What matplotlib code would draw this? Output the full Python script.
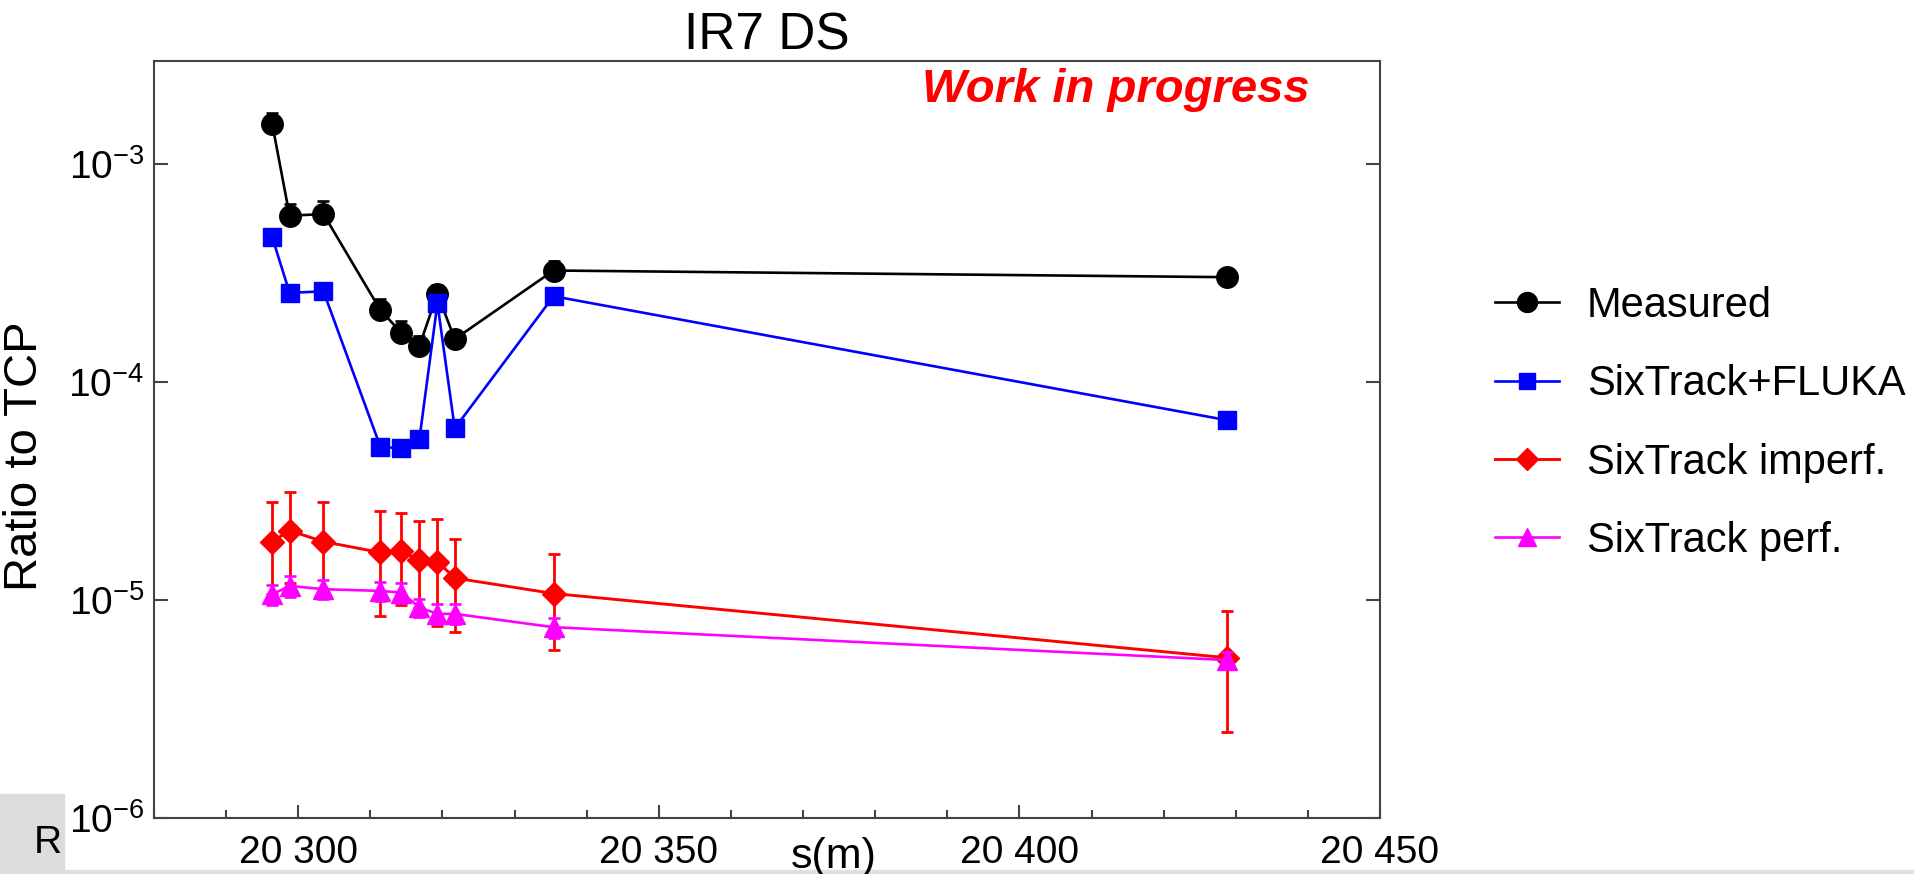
import numpy as np
import matplotlib
matplotlib.use('Agg')
import matplotlib.pyplot as plt
from matplotlib.ticker import FixedLocator, MultipleLocator, FuncFormatter, NullLocator
from matplotlib.lines import Line2D
from matplotlib.patches import Rectangle

plt.rcParams['font.family'] = ['Liberation Sans', 'DejaVu Sans']
plt.rcParams['mathtext.fontset'] = 'custom'
plt.rcParams['mathtext.rm'] = 'Liberation Sans'
plt.rcParams['mathtext.it'] = 'Liberation Sans:italic'
plt.rcParams['mathtext.bf'] = 'Liberation Sans:bold'

## BLM positions along the ring (m)
s_pos = [20296.4, 20298.8, 20303.5, 20311.4, 20314.3, 20316.8, 20319.3, 20321.7, 20335.4, 20428.8]

## Measured losses normalised to the TCP
meas = [1.52e-3, 5.78e-4, 5.88e-4, 2.13e-4, 1.68e-4, 1.46e-4, 2.54e-4, 1.57e-4, 3.24e-4, 3.02e-4]
meas_err_up = [1.9e-4, 7.8e-5, 8.9e-5, 2.6e-5, 2.3e-5, 1.6e-5, 2.3e-5, 1.0e-5, 3.3e-5, 1.2e-5]

## SixTrack+FLUKA energy deposition
fluka = [4.60e-4, 2.56e-4, 2.60e-4, 5.03e-5, 4.96e-5, 5.46e-5, 2.29e-4, 6.12e-5, 2.47e-4, 6.67e-5]

## SixTrack with imperfections
imperf = [1.85e-5, 2.08e-5, 1.85e-5, 1.65e-5, 1.67e-5, 1.52e-5, 1.50e-5, 1.26e-5, 1.07e-5, 5.43e-6]
imperf_lo = [0.78e-5, 0.88e-5, 0.75e-5, 0.81e-5, 0.72e-5, 0.60e-5, 0.74e-5, 0.55e-5, 0.48e-5, 0.294e-5]
imperf_hi = [0.97e-5, 1.03e-5, 0.95e-5, 0.91e-5, 0.83e-5, 0.79e-5, 0.85e-5, 0.64e-5, 0.56e-5, 0.342e-5]

## SixTrack perfect machine
perf = [1.06e-5, 1.16e-5, 1.12e-5, 1.10e-5, 1.08e-5, 9.25e-6, 8.63e-6, 8.63e-6, 7.50e-6, 5.30e-6]
perf_err = [0.11e-5, 0.13e-5, 0.11e-5, 0.11e-5, 0.11e-5, 0.09e-5, 0.09e-5, 0.09e-5, 0.08e-5, 0.05e-5]

series_labels = ['Measured', 'SixTrack+FLUKA', 'SixTrack imperf.', 'SixTrack perf.']

W, H = 1915, 874
fig = plt.figure(figsize=(W/100, H/100), dpi=100)
ax = fig.add_axes([154/W, 56/H, 1226/W, 757/H])

## Measured
ax.errorbar(s_pos, meas, yerr=[np.zeros(len(meas)), meas_err_up], fmt='none',
            ecolor='black', elinewidth=1.9, capsize=4.5, capthick=1.9, zorder=2)
ax.plot(s_pos, meas, color='black', lw=1.9, marker='o', ms=15.5, zorder=3)

## SixTrack+FLUKA
ax.plot(s_pos, fluka, color='#0000ff', lw=1.9, marker='s', ms=13, zorder=4)

## SixTrack imperf.
ax.errorbar(s_pos, imperf, yerr=[imperf_lo, imperf_hi], fmt='none',
            ecolor='#ff0000', elinewidth=2.0, capsize=4.5, capthick=2.0, zorder=5)
ax.plot(s_pos, imperf, color='#ff0000', lw=2.1, marker='D', ms=12.5, zorder=5)

## SixTrack perf.
ax.errorbar(s_pos, perf, yerr=perf_err, fmt='none',
            ecolor='#ff00ff', elinewidth=1.9, capsize=4.5, capthick=1.9, zorder=6)
ax.plot(s_pos, perf, color='#ff00ff', lw=1.9, marker='^', ms=14.5, zorder=6)

ax.set_yscale('log')
ax.set_ylim(1e-6, 2.96e-3)
ax.set_xlim(20280, 20450)

ax.xaxis.set_major_locator(FixedLocator([20300, 20350, 20400, 20450]))
ax.xaxis.set_minor_locator(MultipleLocator(10))
ax.xaxis.set_major_formatter(FuncFormatter(lambda v, p: '%d %03d' % (int(v) // 1000, int(v) % 1000)))
ax.yaxis.set_minor_locator(NullLocator())

for sp in ax.spines.values():
    sp.set_color('#444444')
    sp.set_linewidth(1.5)

ax.tick_params(axis='both', which='both', direction='in', color='#444444', width=1.5)
ax.tick_params(axis='y', which='major', length=10, left=True, right=True, labelsize=28, pad=7)
ax.tick_params(axis='x', which='major', length=9.5, top=False, labelsize=28, pad=12)
ax.tick_params(axis='x', which='minor', length=6, top=False)

ax.text(0.943, 0.946, 'Work in progress', transform=ax.transAxes, ha='right', va='baseline',
        color='#ff0000', fontsize=34, fontweight='bold', fontstyle='italic')

fig.text(767/W, 1 - 50/H, 'IR7 DS', ha='center', va='baseline', fontsize=37)
fig.text(834/W, 1 - 868/H, 's(m)', ha='center', va='baseline', fontsize=31)
fig.text(25/W, 1 - 456/H, 'Ratio to TCP', ha='center', va='center', rotation=90, fontsize=34)

handles = [
    Line2D([], [], color='black', lw=1.9, marker='o', ms=14.4),
    Line2D([], [], color='#0000ff', lw=1.9, marker='s', ms=12.2),
    Line2D([], [], color='#ff0000', lw=2.1, marker='D', ms=11.5),
    Line2D([], [], color='#ff00ff', lw=1.9, marker='^', ms=13.5),
]
ax.legend(handles, series_labels, loc='upper left', bbox_to_anchor=(1495/W, 1 - 286/H),
          bbox_transform=fig.transFigure, frameon=False, fontsize=30, handlelength=1.54,
          handletextpad=0.67, labelspacing=0.92, borderpad=0, borderaxespad=0, numpoints=1)

## grey corner box and bottom strip
fig.patches.append(Rectangle((0, 0), 1, 4/H, transform=fig.transFigure, color='#e0e0e0', zorder=0))
fig.patches.append(Rectangle((0, 0), 64/W, 80/H, transform=fig.transFigure, color='#dcdcdc', zorder=0))
fig.text(62/W, 1 - 853/H, 'R', ha='right', va='baseline', fontsize=28)

fig.savefig('out.png', dpi=100)
